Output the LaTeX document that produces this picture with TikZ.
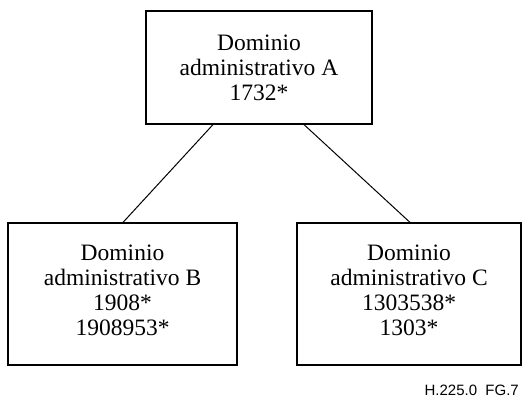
\documentclass[tikz,border=0pt]{standalone}
\usepackage{fontspec}
\setmainfont{Liberation Serif}
\newfontfamily\figlabelfont{Liberation Sans}
\begin{document}
\begin{tikzpicture}[x=1pt,y=-1pt,
  adbox/.style={draw, line width=1.2pt, align=center, inner sep=0pt,
    font=\fontsize{23.5}{25}\selectfont},
  link/.style={line width=1pt}]
\useasboundingbox (0,0) rectangle (527,401);
% administrative domains
\node[adbox, minimum width=226pt, minimum height=113pt] (A) at (259,67.5)
  {Dominio\\administrativo A\\1732*};
\node[adbox, minimum width=229pt, minimum height=142pt, text depth=8pt] (B) at (122.5,294)
  {Dominio\\administrativo B\\1908*\\1908953*};
\node[adbox, minimum width=224pt, minimum height=142pt, text depth=8pt] (C) at (409,294)
  {Dominio\\administrativo C\\1303538*\\1303*};
% hierarchy links
\draw[link] ([xshift=-46pt]A.south) -- ([xshift=0.5pt]B.north);
\draw[link] ([xshift=45pt]A.south) -- ([xshift=1pt]C.north);
% figure reference
\node[font=\figlabelfont\fontsize{15}{17}\selectfont, anchor=base east, inner sep=0pt]
  (ref) at (519,395) {H.225.0\ \ FG.7};
\end{tikzpicture}
\end{document}
